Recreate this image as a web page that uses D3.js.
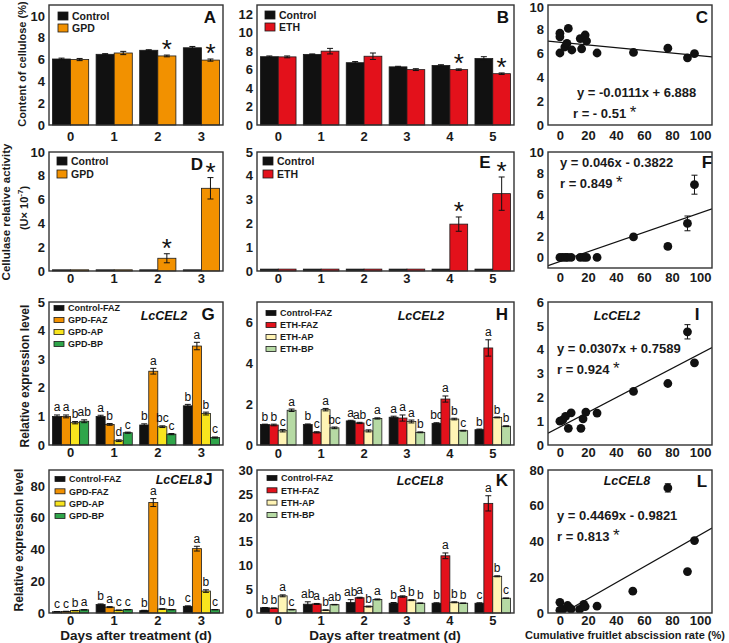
<!DOCTYPE html>
<html><head><meta charset="utf-8">
<script src="https://cdn.jsdelivr.net/npm/d3@7"></script>
<style>body{margin:0;background:#fff}svg{display:block}text{font-family:"Liberation Sans",Arial,Helvetica,sans-serif}</style>
</head><body><svg id="chart" width="729" height="643"></svg>
<script>
// ---------------- DATA ----------------
const daysGPD = ["0","1","2","3"];
const daysETH = ["0","1","2","3","4","5"];

// A: content of cellulose (%)
const A_control = [6.05, 6.48, 6.85, 7.08];
const A_controlErr = [0.08, 0.06, 0.05, 0.12];
const A_gpd = [6.0, 6.6, 6.33, 5.95];
const A_gpdErr = [0.1, 0.15, 0.08, 0.1];
const A_sig = [false, false, true, true];

// B
const B_control = [7.4, 7.65, 6.75, 6.3, 6.45, 7.2];
const B_controlErr = [0.08, 0.05, 0.12, 0.06, 0.08, 0.2];
const B_eth = [7.38, 8.0, 7.45, 6.0, 6.0, 5.56];
const B_ethErr = [0.1, 0.3, 0.35, 0.1, 0.08, 0.08];
const B_sig = [false, false, false, false, true, true];

// D: cellulase relative activity
const D_control = [0.1, 0.1, 0.1, 0.1];
const D_gpd = [0.1, 0.1, 1.07, 6.95];
const D_gpdErr = [0, 0, 0.38, 0.9];
const D_sig = [false, false, true, true];

// E
const E_control = [0.08, 0.08, 0.08, 0.08, 0.08, 0.08];
const E_eth = [0.08, 0.08, 0.08, 0.08, 1.97, 3.25];
const E_ethErr = [0, 0, 0, 0, 0.3, 0.7];
const E_sig = [false, false, false, false, true, true];

// G: LcCEL2, GPD
const G_ctrl = [1.0, 1.0, 0.7, 1.37];
const G_ctrlErr = [0.05, 0.04, 0.04, 0.05];
const G_faz = [1.0, 0.72, 2.58, 3.46];
const G_fazErr = [0.05, 0.03, 0.1, 0.13];
const G_ap = [0.78, 0.15, 0.64, 1.1];
const G_apErr = [0.04, 0.03, 0.03, 0.05];
const G_bp = [0.83, 0.43, 0.38, 0.26];
const G_bpErr = [0.05, 0.02, 0.02, 0.02];
const G_letters = [["a","a","b","b"],["a","b","a","a"],["b","d","bc","b"],["ab","c","c","c"]];

// H: LcCEL2, ETH
const H_ctrl = [1.0, 1.0, 1.18, 1.36, 1.06, 0.75];
const H_ctrlErr = [0.02, 0.03, 0.03, 0.05, 0.03, 0.03];
const H_faz = [0.98, 0.62, 1.08, 1.32, 2.25, 4.75];
const H_fazErr = [0.04, 0.03, 0.03, 0.15, 0.15, 0.4];
const H_ap = [0.7, 1.73, 0.69, 1.15, 1.27, 1.35];
const H_apErr = [0.06, 0.06, 0.05, 0.07, 0.04, 0.02];
const H_bp = [1.7, 0.84, 1.3, 0.62, 0.7, 0.92];
const H_bpErr = [0.06, 0.04, 0.03, 0.02, 0.02, 0.02];
const H_letters = [["b","b","a","a","bc","b"],["b","c","ab","a","a","a"],["c","a","c","a","b","b"],["a","bc","a","b","c","b"]];

// J: LcCEL8, GPD
const J_ctrl = [0.8, 5.3, 1.5, 4.2];
const J_ctrlErr = [0.1, 0.4, 0.2, 0.3];
const J_faz = [1.0, 3.7, 69.5, 40.5];
const J_fazErr = [0.1, 0.3, 2.5, 1.5];
const J_ap = [1.5, 1.7, 2.5, 13.8];
const J_apErr = [0.1, 0.2, 0.2, 0.8];
const J_bp = [2.0, 2.1, 2.1, 2.1];
const J_bpErr = [0.1, 0.1, 0.1, 0.1];
const J_letters = [["c","b","b","c"],["c","a","a","a"],["b","c","b","b"],["a","c","b","c"]];

// K: LcCEL8, ETH
const K_ctrl = [1.1, 1.85, 2.2, 2.05, 2.05, 2.05];
const K_ctrlErr = [0.05, 0.5, 0.6, 0.15, 0.1, 0.1];
const K_faz = [1.0, 1.9, 3.2, 3.45, 12.0, 23.0];
const K_fazErr = [0.05, 0.1, 0.1, 0.15, 0.6, 1.6];
const K_ap = [3.6, 0.6, 1.35, 2.7, 2.25, 7.7];
const K_apErr = [0.2, 0.05, 0.1, 0.1, 0.1, 0.1];
const K_bp = [0.7, 1.75, 2.85, 2.05, 2.05, 3.1];
const K_bpErr = [0.05, 0.05, 0.1, 0.05, 0.05, 0.05];
const K_letters = [["b","ab","ab","b","b","c"],["b","a","a","a","a","a"],["a","b","b","b","b","b"],["c","ab","a","b","b","c"]];

// Scatter: cumulative fruitlet abscission rate (%) vs value
const C_x = [0, 0, 0, 3.5, 5, 6, 8.5, 14.5, 15.5, 18, 19, 26.5, 52.5, 77, 91, 96];
const C_y = [7.65, 7.35, 6.0, 6.5, 6.8, 8.05, 6.25, 7.2, 6.35, 7.5, 7.0, 6.0, 6.05, 6.4, 5.6, 5.95];
const C_fit = [-0.0111, 6.888];

const F_x = [0, 2, 4, 5.5, 8, 14.5, 17, 19, 26.5, 52.5, 77, 91, 96];
const F_y = [0, 0, 0, 0, 0, 0, 0, 0, 0, 1.95, 1.05, 3.23, 6.9];
const F_err = [0, 0, 0, 0, 0, 0, 0, 0, 0, 0.15, 0.25, 0.7, 0.9];
const F_fit = [0.046, -0.3822];

const I_x = [0, 2, 4, 6, 8, 15, 16.5, 18.5, 26.5, 52.5, 77, 91, 96];
const I_y = [1.0, 1.05, 1.2, 0.7, 1.35, 0.7, 1.1, 1.38, 1.34, 2.25, 2.58, 4.75, 3.45];
const I_err = [0, 0, 0, 0, 0, 0, 0, 0, 0, 0, 0, 0.3, 0];
const I_fit = [0.0307, 0.7589];

const L_x = [0, 0, 2, 5.5, 7, 8, 14, 17, 18, 26.5, 52, 77, 91, 96];
const L_y = [1.5, 6.0, 2.0, 4.2, 2.9, 2.2, 2.0, 4.8, 3.6, 3.8, 12.2, 70, 23.2, 40.5];
const L_err = [0, 0, 0, 0, 0, 0, 0, 0, 0, 0, 0, 2.3, 0, 0];
const L_fit = [0.4469, -0.9821];

const xTicksScatter = [0, 20, 40, 60, 80, 100];

// ---------------- STYLE ----------------
const COL = {black:"#111111", orange:"#F29100", red:"#E3111B", yellow:"#F8E41E", green:"#2FA54A",
             lyellow:"#FFF4B5", lgreen:"#B6DAA4"};
const FONT = '"Liberation Sans", Arial, Helvetica, sans-serif';
const svg = d3.select("#chart");
const COLS = {L:[49,223], M:[257,514], R:[548,712]};
const ROWS = {r1:[5,125], r2:[152,271], r3:[302,445], r4:[470,613]};
const intFmt = d => String(d);

function styleAxis(g){
  g.select(".domain").remove();
  g.selectAll("text").attr("font-family",FONT).attr("font-size","13px").attr("font-weight","bold").attr("fill","#1a1a1a");
}

function frame(xr, yr){
  svg.append("rect").attr("x",xr[0]).attr("y",yr[0]).attr("width",xr[1]-xr[0]).attr("height",yr[1]-yr[0])
    .attr("fill","none").attr("stroke","#333").attr("stroke-width",1.4);
}

function errBar(g, cx, y0, y1, cap){
  g.append("line").attr("x1",cx).attr("x2",cx).attr("y1",y0).attr("y2",y1).attr("stroke","#111").attr("stroke-width",1);
  g.append("line").attr("x1",cx-cap).attr("x2",cx+cap).attr("y1",y0).attr("y2",y0).attr("stroke","#111").attr("stroke-width",1);
  g.append("line").attr("x1",cx-cap).attr("x2",cx+cap).attr("y1",y1).attr("y2",y1).attr("stroke","#111").attr("stroke-width",1);
}

function barPanel(p){
  const g = svg.append("g");
  const [xa, xb] = p.xr, [ya, yb] = p.yr;
  const x0 = d3.scaleBand().domain(p.cats).range([xa, xb]).paddingInner(0.17).paddingOuter(0.08);
  const x1 = d3.scaleBand().domain(d3.range(p.series.length)).range([0, x0.bandwidth()]);
  const y = d3.scaleLinear().domain(p.ydom).range([yb, ya]);
  p.series.forEach((s, si) => {
    s.values.forEach((v, i) => {
      const bx = x0(p.cats[i]) + x1(si), bw = x1.bandwidth();
      g.append("rect").attr("x", bx).attr("y", y(v)).attr("width", bw).attr("height", y(0) - y(v))
        .attr("fill", s.color).attr("stroke", "#1a1a1a").attr("stroke-width", 0.8);
      const e = s.err ? s.err[i] : 0;
      if (e > 0) errBar(g, bx + bw/2, y(v + e), y(Math.max(0, v - e)), Math.min(3, bw/3));
      const topY = y(v + e);
      if (s.letters) {
        g.append("text").attr("x", bx + bw/2).attr("y", topY - 3.5).attr("text-anchor","middle")
          .attr("font-size","12px").attr("font-family",FONT).attr("fill","#111").text(s.letters[i]);
      }
      if (s.sig && s.sig[i]) {
        g.append("text").attr("x", bx + bw/2).attr("y", topY + 3).attr("text-anchor","middle")
          .attr("font-size","26px").attr("font-family",FONT).attr("fill","#111").text("*");
      }
    });
  });
  const ya_ = svg.append("g").attr("transform",`translate(${xa},0)`)
    .call(d3.axisLeft(y).tickValues(p.yticks).tickFormat(intFmt).tickSize(0).tickPadding(4));
  styleAxis(ya_);
  const xa_ = svg.append("g").attr("transform",`translate(0,${yb})`)
    .call(d3.axisBottom(x0).tickSize(0).tickPadding(p.xpad));
  styleAxis(xa_);
  frame(p.xr, p.yr);
  // legend
  const L = p.legend;
  p.series.forEach((s, si) => {
    const cy = L.y + si * L.dy;
    svg.append("rect").attr("x", L.x).attr("y", cy - L.h/2).attr("width", L.w).attr("height", L.h)
      .attr("fill", s.color).attr("stroke","#1a1a1a").attr("stroke-width",0.8);
    svg.append("text").attr("x", L.x + L.w + 4).attr("y", cy + L.fs*0.36).attr("font-size", L.fs + "px")
      .attr("font-weight","bold").attr("font-family",FONT).attr("fill","#1a1a1a").text(s.name);
  });
}

function scatterPanel(p){
  const [xa, xb] = COLS.R, [ya, yb] = p.yr;
  const x = d3.scaleLinear().domain([-8.5, 108.5]).range([xa, xb]);
  const y = d3.scaleLinear().domain(p.ydom).range([yb, ya]);
  const id = "clip" + p.id;
  svg.append("clipPath").attr("id", id).append("rect").attr("x", xa).attr("y", ya).attr("width", xb - xa).attr("height", yb - ya);
  const g = svg.append("g").attr("clip-path", `url(#${id})`);
  const xs = x.domain();
  g.append("line").attr("x1", x(xs[0])).attr("x2", x(xs[1]))
    .attr("y1", y(p.fit[0]*xs[0] + p.fit[1])).attr("y2", y(p.fit[0]*xs[1] + p.fit[1]))
    .attr("stroke","#111").attr("stroke-width",1.2);
  p.xv.forEach((xv, i) => {
    const e = p.err ? p.err[i] : 0;
    if (e > 0) errBar(g, x(xv), y(p.yv[i] + e), y(p.yv[i] - e), 3);
    g.append("circle").attr("cx", x(xv)).attr("cy", y(p.yv[i])).attr("r", 4.4).attr("fill","#111");
  });
  const ya_ = svg.append("g").attr("transform",`translate(${xa},0)`)
    .call(d3.axisLeft(y).tickValues(p.yticks).tickFormat(intFmt).tickSize(0).tickPadding(4));
  styleAxis(ya_);
  if (p.topTickNudge) ya_.selectAll(".tick").filter(d => d === p.ydom[1]).select("text").attr("dy", "0.5em");
  const xa_ = svg.append("g").attr("transform",`translate(0,${yb})`)
    .call(d3.axisBottom(x).tickValues(xTicksScatter).tickFormat(intFmt).tickSize(0).tickPadding(p.xpad));
  styleAxis(xa_);
  frame(COLS.R, p.yr);
  // equation texts
  svg.append("text").attr("x", p.eq[0]).attr("y", p.eq[1]).attr("font-size","13px").attr("font-weight","bold")
    .attr("font-family",FONT).attr("fill","#1a1a1a").text(p.eqText);
  const r = svg.append("text").attr("x", p.eq[0] - (p.rShift||0)).attr("y", p.eq[1] + 21).attr("font-size","13px").attr("font-weight","bold")
    .attr("font-family",FONT).attr("fill","#1a1a1a");
  r.append("tspan").text(p.rText + " ");
  r.append("tspan").attr("font-size","17px").attr("font-weight","normal").text("*");
}

function panelLabel(t, x, y){
  svg.append("text").attr("x", x).attr("y", y).attr("text-anchor","middle").attr("font-size","17px")
    .attr("font-weight","bold").attr("font-family",FONT).attr("fill","#111").text(t);
}
function geneLabel(t, x, y){
  svg.append("text").attr("x", x).attr("y", y).attr("text-anchor","middle").attr("font-size","12.5px")
    .attr("font-weight","bold").attr("font-style","italic").attr("font-family",FONT).attr("fill","#111").text(t);
}

// ---- Row 1
barPanel({cats:daysGPD, xr:COLS.L, yr:ROWS.r1, ydom:[0,11], yticks:[0,2,4,6,8,10], xpad:7,
  series:[{name:"Control", color:COL.black, values:A_control, err:A_controlErr},
          {name:"GPD", color:COL.orange, values:A_gpd, err:A_gpdErr, sig:A_sig}],
  legend:{x:58, y:16, dy:12, w:10, h:8, fs:10.5}});
barPanel({cats:daysETH, xr:COLS.M, yr:ROWS.r1, ydom:[0,13], yticks:[0,2,4,6,8,10,12], xpad:7,
  series:[{name:"Control", color:COL.black, values:B_control, err:B_controlErr},
          {name:"ETH", color:COL.red, values:B_eth, err:B_ethErr, sig:B_sig}],
  legend:{x:265, y:15, dy:12, w:10, h:8, fs:10.5}});
scatterPanel({id:"C", yr:ROWS.r1, ydom:[0,10], yticks:[0,2,4,6,8,10], xpad:6, xv:C_x, yv:C_y, fit:C_fit,
  eq:[577, 97], eqText:"y = -0.0111x + 6.888", rText:"r = - 0.51", rShift:4, topTickNudge:true});

// ---- Row 2
barPanel({cats:daysGPD, xr:COLS.L, yr:ROWS.r2, ydom:[0,10], yticks:[0,2,4,6,8,10], xpad:3,
  series:[{name:"Control", color:COL.black, values:D_control},
          {name:"GPD", color:COL.orange, values:D_gpd, err:D_gpdErr, sig:D_sig}],
  legend:{x:57, y:161, dy:13, w:10, h:8, fs:10.5}});
barPanel({cats:daysETH, xr:COLS.M, yr:ROWS.r2, ydom:[0,5], yticks:[0,1,2,3,4,5], xpad:3,
  series:[{name:"Control", color:COL.black, values:E_control},
          {name:"ETH", color:COL.red, values:E_eth, err:E_ethErr, sig:E_sig}],
  legend:{x:263, y:161, dy:13, w:10, h:8, fs:10.5}});
scatterPanel({id:"F", yr:[152,268], ydom:[-1,10], yticks:[0,2,4,6,8,10], xpad:5, xv:F_x, yv:F_y, err:F_err, fit:F_fit,
  eq:[560, 167], eqText:"y = 0.046x - 0.3822", rText:"r = 0.849"});

// ---- Row 3
barPanel({cats:daysGPD, xr:COLS.L, yr:ROWS.r3, ydom:[0,5], yticks:[0,1,2,3,4,5], xpad:3,
  series:[{name:"Control-FAZ", color:COL.black, values:G_ctrl, err:G_ctrlErr, letters:G_letters[0]},
          {name:"GPD-FAZ", color:COL.orange, values:G_faz, err:G_fazErr, letters:G_letters[1]},
          {name:"GPD-AP", color:COL.yellow, values:G_ap, err:G_apErr, letters:G_letters[2]},
          {name:"GPD-BP", color:COL.green, values:G_bp, err:G_bpErr, letters:G_letters[3]}],
  legend:{x:54, y:308, dy:12, w:10, h:5, fs:9}});
barPanel({cats:daysETH, xr:COLS.M, yr:ROWS.r3, ydom:[0,7], yticks:[0,2,4,6], xpad:4,
  series:[{name:"Control-FAZ", color:COL.black, values:H_ctrl, err:H_ctrlErr, letters:H_letters[0]},
          {name:"ETH-FAZ", color:COL.red, values:H_faz, err:H_fazErr, letters:H_letters[1]},
          {name:"ETH-AP", color:COL.lyellow, values:H_ap, err:H_apErr, letters:H_letters[2]},
          {name:"ETH-BP", color:COL.lgreen, values:H_bp, err:H_bpErr, letters:H_letters[3]}],
  legend:{x:266, y:313, dy:12, w:10, h:5, fs:9}});
scatterPanel({id:"I", yr:ROWS.r3, ydom:[0,6], yticks:[0,1,2,3,4,5,6], xpad:3, xv:I_x, yv:I_y, err:I_err, fit:I_fit,
  eq:[557, 353], eqText:"y = 0.0307x + 0.7589", rText:"r = 0.924"});

// ---- Row 4
barPanel({cats:daysGPD, xr:COLS.L, yr:ROWS.r4, ydom:[0,90], yticks:[0,20,40,60,80], xpad:3,
  series:[{name:"Control-FAZ", color:COL.black, values:J_ctrl, err:J_ctrlErr, letters:J_letters[0]},
          {name:"GPD-FAZ", color:COL.orange, values:J_faz, err:J_fazErr, letters:J_letters[1]},
          {name:"GPD-AP", color:COL.yellow, values:J_ap, err:J_apErr, letters:J_letters[2]},
          {name:"GPD-BP", color:COL.green, values:J_bp, err:J_bpErr, letters:J_letters[3]}],
  legend:{x:55, y:479, dy:12.3, w:10, h:5, fs:9}});
barPanel({cats:daysETH, xr:COLS.M, yr:ROWS.r4, ydom:[0,30], yticks:[0,5,10,15,20,25,30], xpad:3,
  series:[{name:"Control-FAZ", color:COL.black, values:K_ctrl, err:K_ctrlErr, letters:K_letters[0]},
          {name:"ETH-FAZ", color:COL.red, values:K_faz, err:K_fazErr, letters:K_letters[1]},
          {name:"ETH-AP", color:COL.lyellow, values:K_ap, err:K_apErr, letters:K_letters[2]},
          {name:"ETH-BP", color:COL.lgreen, values:K_bp, err:K_bpErr, letters:K_letters[3]}],
  legend:{x:267, y:478, dy:12.3, w:10, h:5, fs:9}});
scatterPanel({id:"L", yr:ROWS.r4, ydom:[0,80], yticks:[0,20,40,60,80], xpad:3, xv:L_x, yv:L_y, err:L_err, fit:L_fit,
  eq:[557, 520], eqText:"y = 0.4469x - 0.9821", rText:"r = 0.813"});

// ---- Panel letters & gene names
panelLabel("A", 210, 23); panelLabel("B", 503, 23); panelLabel("C", 702, 23);
panelLabel("D", 197, 170); panelLabel("E", 485, 168); panelLabel("F", 707, 168);
panelLabel("G", 208, 320); panelLabel("H", 502, 320); panelLabel("I", 697, 320);
panelLabel("J", 208, 485); panelLabel("K", 502, 486); panelLabel("L", 702, 487);
geneLabel("LcCEL2", 164, 320); geneLabel("LcCEL2", 421, 320); geneLabel("LcCEL2", 617, 320);
geneLabel("LcCEL8", 179, 484); geneLabel("LcCEL8", 420, 485); geneLabel("LcCEL8", 627, 485);

// ---- Axis titles
function vTitle(x, y, fs){
  return svg.append("text").attr("transform", `translate(${x},${y}) rotate(-90)`).attr("text-anchor","middle")
    .attr("font-size", fs + "px").attr("font-weight","bold").attr("font-family",FONT).attr("fill","#1a1a1a");
}
vTitle(26, 64, 11).text("Content of cellulose (%)");
vTitle(10, 212, 11.5).text("Cellulase relative activity");
const u = vTitle(28, 208, 11);
u.append("tspan").text("(U\u00d7 10");
u.append("tspan").attr("dy", -5).attr("font-size","8px").text("-7");
u.append("tspan").attr("dy", 5).text(")");
vTitle(29, 376, 12).text("Relative expression level");
vTitle(23, 540, 12).text("Relative expression level");

svg.append("text").attr("x", 136).attr("y", 640).attr("text-anchor","middle").attr("font-size","13.5px")
  .attr("font-weight","bold").attr("font-family",FONT).attr("fill","#1a1a1a").text("Days after treatment (d)");
svg.append("text").attr("x", 385).attr("y", 640).attr("text-anchor","middle").attr("font-size","13.5px")
  .attr("font-weight","bold").attr("font-family",FONT).attr("fill","#1a1a1a").text("Days after treatment (d)");
svg.append("text").attr("x", 625).attr("y", 639).attr("text-anchor","middle").attr("font-size","11px")
  .attr("font-weight","bold").attr("font-family",FONT).attr("fill","#1a1a1a").text("Cumulative fruitlet abscission rate (%)");
</script></body></html>
